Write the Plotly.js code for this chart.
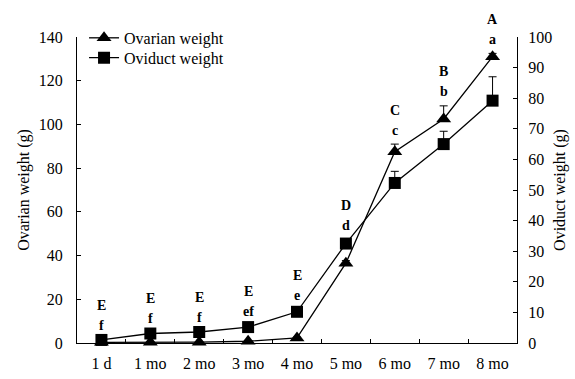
<!DOCTYPE html>
<html><head><meta charset="utf-8">
<script src="https://cdn.plot.ly/plotly-3.0.1.min.js"></script>
<style>body{margin:0;background:#fff}#chart{width:575px;height:379px}</style>
</head><body><div id="chart"></div>
<script>
const categories = ['1 d','1 mo','2 mo','3 mo','4 mo','5 mo','6 mo','7 mo','8 mo'];
const ovarianWeight = [0.3, 0.3, 0.4, 0.8, 2.3, 36.5, 87.5, 102.5, 131];
const ovarianErr    = [0.1, 0.1, 0.1, 0.2, 0.4, 1.2, 3.5, 6.0, 1.5];
const oviductWeight = [1.0, 3.1, 3.6, 5.2, 10.2, 32.5, 52.3, 65.0, 79.2];
const oviductErr    = [0.2, 0.3, 0.3, 0.4, 0.6, 1.2, 3.8, 4.2, 7.8];
const upperLetters  = ['E','E','E','E','E','D','C','B','A'];
const lowerLetters  = ['f','f','f','ef','e','d','c','b','a'];

const FONT = 'Liberation Serif';
const ratio = 140/100;
const annotations = [];
categories.forEach((c,i)=>{
  const top = Math.max(ovarianWeight[i]+ovarianErr[i], (oviductWeight[i]+oviductErr[i])*ratio);
  annotations.push({x:c, y:top, xref:'x', yref:'y', text:'<b>'+lowerLetters[i]+'</b>', showarrow:false,
    yshift:14, font:{family:FONT,size:14,color:'#000'}});
  annotations.push({x:c, y:top, xref:'x', yref:'y', text:'<b>'+upperLetters[i]+'</b>', showarrow:false,
    yshift:34, font:{family:FONT,size:14,color:'#000'}});
});

const data = [
  {x:categories, y:ovarianWeight, name:'Ovarian weight', type:'scatter', mode:'lines+markers', legend:'legend',
   line:{color:'#000',width:1.3}, marker:{symbol:'triangle-up',size:13,color:'#000'},
   error_y:{type:'data',symmetric:false,array:ovarianErr,arrayminus:ovarianErr.map(()=>0),color:'#000',thickness:1,width:4},
   cliponaxis:false},
  {x:categories, y:oviductWeight, name:'Oviduct weight', type:'scatter', mode:'lines+markers', yaxis:'y2', legend:'legend2',
   line:{color:'#000',width:1.3}, marker:{symbol:'square',size:12,color:'#000'},
   error_y:{type:'data',symmetric:false,array:oviductErr,arrayminus:oviductErr.map(()=>0),color:'#000',thickness:1,width:4},
   cliponaxis:false}
];
const legendBase = {xanchor:'left',yanchor:'middle',bgcolor:'rgba(0,0,0,0)',font:{family:FONT,size:16},itemwidth:30};
const layout = {
  width:575, height:379, margin:{l:77,r:58,t:37,b:36},
  paper_bgcolor:'#fff', plot_bgcolor:'#fff',
  font:{family:FONT,size:16,color:'#000'},
  showlegend:true,
  legend:Object.assign({x:0.016,y:0.997},legendBase),
  legend2:Object.assign({x:0.016,y:0.932},legendBase),
  xaxis:{type:'category',range:[-0.5,8.5],showline:true,linecolor:'#000',linewidth:1,ticks:'inside',ticklen:4,
    tickson:'boundaries',tickcolor:'#000',showgrid:false,zeroline:false,tickfont:{family:FONT,size:16},ticklabelstandoff:6},
  yaxis:{range:[0,140],dtick:20,showline:true,linecolor:'#000',linewidth:1,ticks:'inside',ticklen:4,tickcolor:'#000',
    showgrid:false,zeroline:false,tickfont:{family:FONT,size:16},ticklabelstandoff:10,
    title:{text:'Ovarian weight (g)',font:{family:FONT,size:16},standoff:5}},
  yaxis2:{range:[0,100],dtick:10,overlaying:'y',side:'right',showline:true,linecolor:'#000',linewidth:1,ticks:'inside',ticklen:4,
    tickcolor:'#000',showgrid:false,zeroline:false,tickfont:{family:FONT,size:16},ticklabelstandoff:7,
    title:{text:'Oviduct weight (g)',font:{family:FONT,size:16},standoff:2}},
  annotations:annotations
};
Plotly.newPlot('chart',data,layout,{displayModeBar:false,staticPlot:true});
</script></body></html>
